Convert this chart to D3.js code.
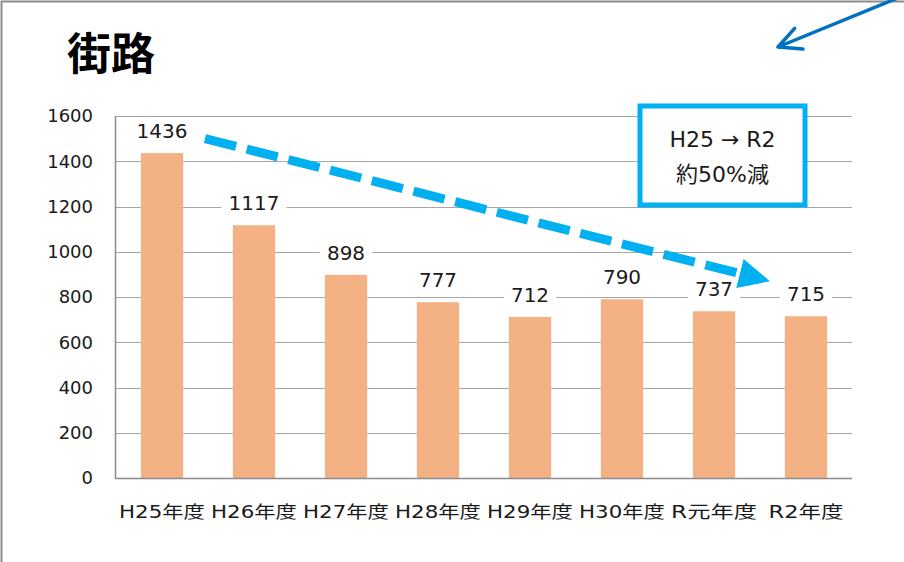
<!DOCTYPE html>
<html lang="ja">

<head>
  <meta charset="UTF-8">
  <title>街路</title>
  <style>
    body {
      margin: 0;
      background: #fff;
    }

    svg {
      display: block;
    }
  </style>
</head>

<body>
  <div id="chart"></div>

  <script src="https://cdn.jsdelivr.net/npm/d3@7"></script>
  <script>
    const width = 904
    const height = 562

    // データ
    const categories = ['H25年度', 'H26年度', 'H27年度', 'H28年度', 'H29年度', 'H30年度', 'R元年度', 'R2年度']
    const values = [1436, 1117, 898, 777, 712, 790, 737, 715]
    const yTicks = [0, 200, 400, 600, 800, 1000, 1200, 1400, 1600]
    const title = '街路'
    const noteLines = ['H25 → R2', '約50%減']

    const plot = { left: 116, right: 852, top: 116, bottom: 478 }

    const svg = d3.select('#chart').append('svg')
      .attr('width', width)
      .attr('height', height)

    // スライド枠
    svg.append('path')
      .attr('d', `M1.5,${height} V1.5 H${width}`)
      .attr('fill', 'none')
      .attr('stroke', '#8c8c8c')
      .attr('stroke-width', 2)

    // タイトル
    svg.append('text')
      .attr('x', 67)
      .attr('y', 70)
      .attr('font-family', '"Noto Sans CJK JP", sans-serif')
      .attr('font-weight', 'bold')
      .attr('font-size', 44)
      .attr('fill', '#000')
      .text(title)

    // スケール
    const x = d3.scaleBand()
      .domain(categories)
      .range([plot.left, plot.right])
      .padding(0)

    const y = d3.scaleLinear()
      .domain([0, 1600])
      .range([plot.bottom, plot.top])

    const barW = x.bandwidth() * 0.46
    const cx = d => x(d) + x.bandwidth() / 2

    // グリッド線
    svg.append('g')
      .selectAll('line')
      .data(yTicks.filter(d => d > 0))
      .join('line')
      .attr('x1', plot.left)
      .attr('x2', plot.right)
      .attr('y1', d => Math.round(y(d)) + 0.5)
      .attr('y2', d => Math.round(y(d)) + 0.5)
      .attr('stroke', '#a6a6a6')
      .attr('stroke-width', 1)

    // y 軸ラベル
    svg.append('g')
      .selectAll('text')
      .data(yTicks)
      .join('text')
      .attr('x', 93)
      .attr('y', d => y(d))
      .attr('dy', '0.36em')
      .attr('text-anchor', 'end')
      .attr('font-family', '"DejaVu Sans", sans-serif')
      .attr('font-size', 18)
      .attr('fill', '#1a1a1a')
      .text(d => d)

    // 棒
    svg.append('g')
      .selectAll('rect')
      .data(values)
      .join('rect')
      .attr('x', (d, i) => cx(categories[i]) - barW / 2)
      .attr('y', d => y(d))
      .attr('width', barW)
      .attr('height', d => y(0) - y(d))
      .attr('fill', '#f4b183')

    // 軸線
    svg.append('path')
      .attr('d', `M${plot.left - 0.5},${plot.top} V${plot.bottom + 0.5} H${plot.right}`)
      .attr('fill', 'none')
      .attr('stroke', '#8c8c8c')
      .attr('stroke-width', 1.5)

    // x 軸ラベル
    svg.append('g')
      .selectAll('text')
      .data(categories)
      .join('text')
      .attr('x', d => cx(d))
      .attr('y', 518)
      .attr('text-anchor', 'middle')
      .attr('font-family', '"DejaVu Sans", "Noto Sans CJK JP", sans-serif')
      .attr('font-size', 17)
      .attr('fill', '#1a1a1a')
      .attr('textLength', d => d.startsWith('R2') ? 75 : 86)
      .attr('lengthAdjust', 'spacingAndGlyphs')
      .text(d => d)

    // データラベル（白背景つき）
    const labels = svg.append('g')
      .selectAll('g')
      .data(values)
      .join('g')
      .attr('transform', (d, i) => `translate(${cx(categories[i])}, ${y(d) - 22})`)

    labels.append('rect')
      .attr('x', d => -(String(d).length * 6.4 + 7))
      .attr('y', -13)
      .attr('width', d => String(d).length * 12.8 + 14)
      .attr('height', 26)
      .attr('fill', '#fff')

    labels.append('text')
      .attr('dy', '0.36em')
      .attr('text-anchor', 'middle')
      .attr('font-family', '"DejaVu Sans", sans-serif')
      .attr('font-size', 20)
      .attr('fill', '#1a1a1a')
      .text(d => d)

    // 減少トレンドの破線矢印
    const start = [cx(categories[0]) + 43, y(1500)]
    const tip = [cx(categories[categories.length - 1]) - 36, y(870)]
    const len = Math.hypot(tip[0] - start[0], tip[1] - start[1])
    const u = [(tip[0] - start[0]) / len, (tip[1] - start[1]) / len]
    const n = [-u[1], u[0]]
    const headLen = 31
    const headHalf = 15
    const base = [tip[0] - u[0] * headLen, tip[1] - u[1] * headLen]

    svg.append('line')
      .attr('x1', start[0])
      .attr('y1', start[1])
      .attr('x2', base[0])
      .attr('y2', base[1])
      .attr('stroke', '#00b0f0')
      .attr('stroke-width', 9)
      .attr('stroke-dasharray', '32 11')

    svg.append('path')
      .attr('d', d3.line()([
        tip,
        [base[0] + n[0] * headHalf, base[1] + n[1] * headHalf],
        [base[0] - n[0] * headHalf, base[1] - n[1] * headHalf]
      ]) + 'Z')
      .attr('fill', '#00b0f0')

    // 注記ボックス
    const note = { x: 640, y: 106, w: 165, h: 99 }
    svg.append('rect')
      .attr('x', note.x)
      .attr('y', note.y)
      .attr('width', note.w)
      .attr('height', note.h)
      .attr('fill', '#fff')
      .attr('stroke', '#00b0f0')
      .attr('stroke-width', 5)

    svg.append('g')
      .selectAll('text')
      .data(noteLines)
      .join('text')
      .attr('x', note.x + note.w / 2)
      .attr('y', (d, i) => 147 + i * 35)
      .attr('text-anchor', 'middle')
      .attr('font-family', '"DejaVu Sans", "Noto Sans CJK JP", sans-serif')
      .attr('font-size', 22)
      .attr('fill', '#1a1a1a')
      .text(d => d)

    // 右上の矢印
    const aTip = [778, 47]
    const aFrom = [905, -5]
    const aLen = Math.hypot(aFrom[0] - aTip[0], aFrom[1] - aTip[1])
    const ad = [(aFrom[0] - aTip[0]) / aLen, (aFrom[1] - aTip[1]) / aLen]
    const rot = (v, deg) => {
      const r = deg * Math.PI / 180
      return [v[0] * Math.cos(r) - v[1] * Math.sin(r), v[0] * Math.sin(r) + v[1] * Math.cos(r)]
    }
    const arm1 = rot(ad, -26)
    const arm2 = rot(ad, 27)

    svg.append('path')
      .attr('d', `M${aFrom[0]},${aFrom[1]} L${aTip[0]},${aTip[1]}`
        + ` M${aTip[0] + arm1[0] * 25},${aTip[1] + arm1[1] * 25} L${aTip[0]},${aTip[1]}`
        + ` L${aTip[0] + arm2[0] * 25},${aTip[1] + arm2[1] * 25}`)
      .attr('fill', 'none')
      .attr('stroke', '#0070c0')
      .attr('stroke-width', 3.5)
      .attr('stroke-linecap', 'round')
      .attr('stroke-linejoin', 'round')
  </script>
</body>

</html>
